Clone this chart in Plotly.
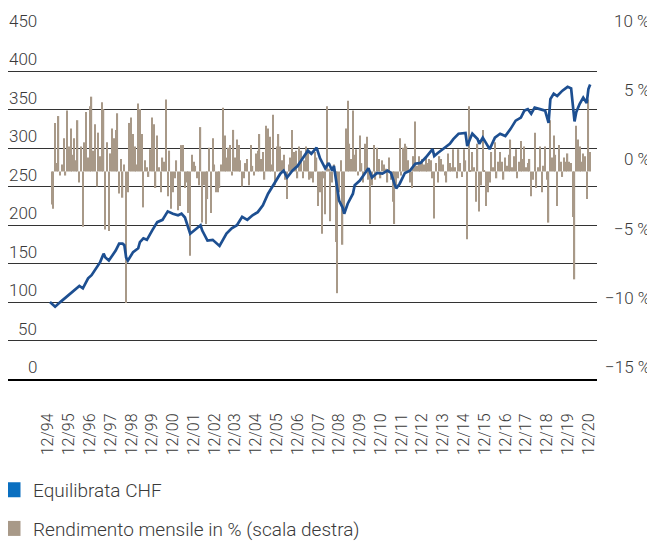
import pandas as pd
import plotly.graph_objects as go

# ---------------- data ----------------
# Fund value (left scale), read at selected month ends
line_months = [
    "1994-12", "1995-03", "1995-06", "1995-09", "1995-11", "1996-03", "1996-05", "1996-07",
    "1996-10", "1996-12", "1997-03", "1997-05", "1997-07", "1997-08", "1997-10", "1998-02",
    "1998-04", "1998-06", "1998-07", "1998-08", "1998-09", "1998-12", "1999-03", "1999-04",
    "1999-06", "1999-08", "1999-11", "2000-02", "2000-05", "2000-08", "2000-11", "2001-02",
    "2001-04", "2001-06", "2001-09", "2001-11", "2002-03", "2002-04", "2002-07", "2002-10",
    "2003-02", "2003-06", "2003-09", "2003-12", "2004-03", "2004-06", "2004-09", "2004-12",
    "2005-03", "2005-06", "2005-08", "2005-10", "2006-01", "2006-03", "2006-05", "2006-08",
    "2006-11", "2007-01", "2007-04", "2007-05", "2007-07", "2007-10", "2007-12", "2008-03",
    "2008-05", "2008-07", "2008-08", "2008-10", "2008-11", "2009-01", "2009-02", "2009-04",
    "2009-07", "2009-08", "2009-11", "2010-04", "2010-06", "2010-09", "2010-12", "2011-03",
    "2011-05", "2011-07", "2011-08", "2011-10", "2012-01", "2012-04", "2012-07", "2012-10",
    "2013-01", "2013-05", "2013-06", "2013-08", "2013-12", "2014-03", "2014-05", "2014-08",
    "2014-12", "2015-01", "2015-03", "2015-04", "2015-07", "2015-08", "2015-10", "2015-12",
    "2016-02", "2016-05", "2016-08", "2016-11", "2017-02", "2017-05", "2017-08", "2017-10",
    "2017-12", "2018-02", "2018-04", "2018-07", "2018-10", "2018-12", "2019-01", "2019-03",
    "2019-05", "2019-08", "2019-11", "2020-01", "2020-03", "2020-04", "2020-06", "2020-08",
    "2020-10", "2020-11", "2020-12",
]
line_values = [
    100, 94, 100, 106, 109, 118, 121, 118,
    131, 135, 145, 152, 163, 158, 154, 167,
    176, 176, 174, 158, 154, 165, 170, 178,
    183, 181, 193, 204, 207, 218, 215, 213,
    215, 210, 189, 193, 200, 193, 180, 181,
    173, 189, 196, 200, 211, 207, 213, 217,
    226, 241, 248, 255, 267, 271, 262, 271,
    277, 284, 294, 297, 293, 301, 287, 274,
    281, 271, 277, 249, 232, 223, 215, 228,
    241, 252, 258, 274, 262, 268, 267, 271,
    268, 254, 248, 254, 268, 271, 280, 281,
    288, 299, 290, 294, 301, 306, 312, 319,
    320, 303, 314, 319, 312, 306, 314, 306,
    299, 314, 319, 316, 325, 336, 340, 349,
    351, 345, 353, 351, 349, 333, 364, 371,
    368, 375, 380, 378, 335, 347, 358, 366,
    359, 377, 383,
]

# Monthly return in % (right scale), Jan 1995 .. Dec 2020
monthly_return_pct = [
    -2.4, -2.7, 3.5, 0.6, 4.0, -0.3, 0.5, 2.4, -0.3, 4.4, 1.8, 3.1,      # 1995
    1.2, 2.4, 0.8, 3.7, -0.8, 1.8, -4.0, 2.1, 4.3, 1.0, 4.7, 5.4,        # 1996
    1.5, 3.4, -1.1, 2.8, 1.1, 5.0, 4.5, -4.2, 2.1, -4.3, 1.3, 3.1,       # 1997
    2.4, 3.0, 4.2, -1.6, 0.9, -1.9, 0.5, -9.5, -1.5, 3.5, 3.9, 2.7,      # 1998
    1.8, 0.5, 4.9, 4.5, 2.7, -2.6, 0.8, 0.3, -0.4, 1.6, 3.9, 3.4,        # 1999
    -1.2, 2.6, 0.3, -1.5, 1.0, 0.7, 5.2, -1.8, 1.5, -2.7, -1.5, -0.5,    # 2000
    0.8, -2.8, -2.5, 1.9, 1.9, -1.2, -0.8, -3.0, -6.1, 1.2, 0.7, 0.4,    # 2001
    -0.5, -1.0, 3.2, -3.7, -1.0, -3.8, -2.0, 1.7, -3.0, 2.4, 0.5, -1.5,  # 2002
    -1.5, -1.2, 0.5, 4.6, 2.6, 1.0, 1.7, 1.9, -0.3, 3.0, 1.0, 2.3,       # 2003
    1.9, 0.8, -1.1, -0.5, 0.6, 0.9, -1.0, 1.9, 0.4, -0.3, 1.3, 1.5,      # 2004
    2.7, 0.9, 1.4, -0.6, 3.3, 3.1, 2.5, 0.5, 4.1, -1.0, 1.8, 2.7,        # 2005
    1.8, 0.8, 1.2, -0.6, -2.0, 0.5, 1.0, 3.0, 1.4, 1.5, -0.5, 1.8,       # 2006
    1.5, -0.5, 0.8, 1.8, 1.5, -0.6, -0.5, -0.8, 1.4, 1.0, -2.5, -1.5,    # 2007
    -4.5, -0.5, -3.1, 4.7, 0.2, -3.6, -0.8, 0.5, -5.1, -8.8, -1.5, 0.8,  # 2008
    -5.3, -3.0, 3.1, 5.1, 2.0, 0.9, 4.4, 1.2, 1.6, -0.3, 2.6, 0.6,       # 2009
    -0.8, 2.0, 2.5, -0.6, -3.8, -1.0, 1.9, -0.6, 1.7, 0.9, -0.5, 0.8,    # 2010
    0.5, 0.2, -0.8, 1.0, -0.6, -2.2, -3.8, -1.0, -0.5, 2.4, -0.3, 1.7,   # 2011
    2.0, 1.8, 0.8, -0.8, -1.2, 1.1, 3.6, 0.4, 1.1, 0.7, 0.9, 0.5,        # 2012
    1.1, 0.6, 0.9, 0.8, -0.5, -3.4, 0.6, -0.8, 1.1, 0.9, 0.5, -0.3,      # 2013
    -0.8, 1.3, 0.6, 0.3, 1.6, 0.3, -0.5, 1.6, 0.6, -0.4, 1.6, 0.8,       # 2014
    -4.9, 4.7, 0.1, 1.4, 0.3, -2.2, 2.0, -2.9, -1.0, 3.0, 0.1, -2.5,     # 2015
    -1.5, -0.8, 1.4, 0.3, 2.1, -0.5, 0.7, 1.4, 0.7, -0.6, 1.0, 0.4,      # 2016
    1.2, 2.3, 0.3, 1.1, 1.6, -0.5, 0.7, 2.2, 0.9, 1.8, 0.3, 0.6,         # 2017
    0.9, -1.8, -0.6, 2.8, -1.2, 0.3, 1.8, -1.5, 0.4, 1.8, -0.6, -3.7,    # 2018
    3.7, 1.0, 2.6, 1.2, -2.5, 1.9, 0.7, -0.4, 1.0, 0.7, 1.3, 0.7,        # 2019
    0.6, -3.3, -7.8, 3.3, 2.3, 1.8, 0.7, 1.3, 1.1, -2.0, 5.2, 1.4,       # 2020
]

x_tick_labels = ["12/%02d" % (y % 100) for y in range(1994, 2021)]
x_tick_dates = ["%d-12-01" % y for y in range(1994, 2021)]

left_tick_values = [0, 50, 100, 150, 200, 250, 300, 350, 400, 450]
right_tick_values = [-15, -10, -5, 0, 5, 10]
right_tick_labels = ["\u221215 %", "\u221210 %", "\u22125 %", "0 %", "5 %", "10 %"]

series_names = ["Equilibrata CHF", "Rendimento mensile in % (scala destra)"]

# ---------------- figure ----------------
month_end = pd.offsets.MonthEnd(0)
line_dates = pd.to_datetime(line_months) + month_end
bar_dates = pd.date_range("1995-01-01", periods=len(monthly_return_pct), freq="MS") + month_end

LINE_BLUE = "#1d4f91"
LEGEND_BLUE = "#0a6fc0"
BAR_COLOR = "#a89988"
TEXT = "#3a3a3a"
FONT = "Roboto, 'Liberation Sans', Arial, sans-serif"

W, H = 647, 534            # page body keeps an 8 px margin
PL, PR, PT, PB = 0, 58, 25, 163
PW = W - PL - PR

fig = go.Figure()
fig.add_trace(go.Bar(x=bar_dates, y=monthly_return_pct, name=series_names[1],
                     marker=dict(color=BAR_COLOR, line=dict(width=0)),
                     showlegend=False, yaxis="y"))
fig.add_trace(go.Scatter(x=line_dates, y=line_values, mode="lines", name=series_names[0],
                         line=dict(color=LINE_BLUE, width=2.7), showlegend=False,
                         yaxis="y2"))
# legend entries with square swatches, as in the original
fig.add_trace(go.Scatter(x=[None], y=[None], mode="markers", name=series_names[0],
                         marker=dict(symbol="square", size=15, color=LEGEND_BLUE),
                         legendgroup="a", yaxis="y2", hoverinfo="skip"))
fig.add_trace(go.Scatter(x=[None], y=[None], mode="markers", name=series_names[1],
                         marker=dict(symbol="square", size=15, color=BAR_COLOR),
                         legendgroup="b", yaxis="y", hoverinfo="skip"))

annotations = []
for v in left_tick_values:
    annotations.append(dict(x=31 / PW, xref="paper", y=v, yref="y2", text=str(v),
                            showarrow=False, xanchor="right", yanchor="middle", yshift=12,
                            font=dict(size=17, color=TEXT)))
for v, t in zip(right_tick_values, right_tick_labels):
    annotations.append(dict(x=644 / PW, xref="paper", y=v, yref="y", text=t,
                            showarrow=False, xanchor="right", yanchor="middle", yshift=12,
                            font=dict(size=17, color=TEXT)))

fig.update_layout(
    width=W, height=H,
    template="none",
    paper_bgcolor="white", plot_bgcolor="white",
    margin=dict(l=PL, r=PR, t=PT, b=PB, autoexpand=False),
    font=dict(family=FONT, size=17, color=TEXT, weight=300),
    barmode="overlay", bargap=0.2,
    xaxis=dict(type="date", range=["1992-12-23", "2021-04-30"],
               tickmode="array", tickvals=x_tick_dates, ticktext=x_tick_labels,
               tickangle=-90, ticks="outside", ticklen=26, tickcolor="rgba(0,0,0,0)",
               tickfont=dict(size=16, color=TEXT), showgrid=False, zeroline=False,
               showline=True, linecolor="black", linewidth=2),
    yaxis=dict(range=[-15, 10], side="right", showgrid=False, zeroline=False,
               showticklabels=False, ticks="", tickvals=right_tick_values),
    yaxis2=dict(range=[0, 450], side="left", overlaying="y", tickvals=left_tick_values,
                showgrid=True, gridcolor="#333333", gridwidth=1, zeroline=False,
                showticklabels=False, ticks=""),
    legend=dict(x=-15 / PW, y=-0.2655, xanchor="left", yanchor="top", orientation="v",
                traceorder="grouped", tracegroupgap=11, itemsizing="trace",
                font=dict(size=19, color=TEXT), bgcolor="rgba(0,0,0,0)"),
    annotations=annotations,
    showlegend=True,
)

fig.write_html("out.html")
